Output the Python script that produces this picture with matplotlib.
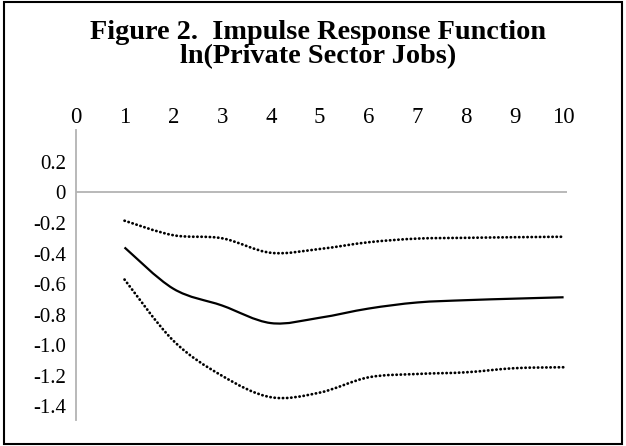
import numpy as np
import matplotlib.pyplot as plt
from matplotlib.path import Path
from matplotlib.patches import PathPatch, Rectangle

# periods and estimated responses
periods = [1, 2, 3, 4, 5, 6, 7, 8, 9, 10]
irf = [-0.36, -0.63, -0.74, -0.855, -0.82, -0.76, -0.72, -0.705, -0.695, -0.686]
upper = [-0.185, -0.28, -0.30, -0.395, -0.37, -0.326, -0.302, -0.297, -0.293, -0.29]
lower = [-0.57, -0.97, -1.20, -1.34, -1.31, -1.21, -1.188, -1.177, -1.15, -1.144]

xticks = list(range(0, 11))
yticks = [0.2, 0, -0.2, -0.4, -0.6, -0.8, -1.0, -1.2, -1.4]
ylabels = ["0.2", "0", "-0.2", "-0.4", "-0.6", "-0.8", "-1.0", "-1.2", "-1.4"]

plt.rcParams['font.family'] = ['Liberation Serif', 'DejaVu Serif']


def smooth_path(x, y):
    # excel-style smoothed line: catmull-rom segments as cubic beziers
    x = np.asarray(x, float)
    y = np.asarray(y, float)
    pts = np.column_stack([x, y])
    verts = [pts[0]]
    codes = [Path.MOVETO]
    n = len(pts)
    for i in range(n - 1):
        p0 = pts[i - 1] if i > 0 else pts[i]
        p1 = pts[i]
        p2 = pts[i + 1]
        p3 = pts[i + 2] if i + 2 < n else pts[i + 1]
        c1 = p1 + (p2 - p0) / 6
        c2 = p2 - (p3 - p1) / 6
        verts += [c1, c2, p2]
        codes += [Path.CURVE4] * 3
    return Path(verts, codes)


fig = plt.figure(figsize=(6.26, 4.46), dpi=100)
ax = fig.add_axes([0.121, 0.058, 0.784, 0.651])

ax.add_patch(PathPatch(smooth_path(periods, irf), fill=False,
                       edgecolor='black', lw=1.6))
for band in (upper, lower):
    ax.add_patch(PathPatch(smooth_path(periods, band), fill=False,
                           edgecolor='black', lw=2.0,
                           linestyle=(0, (0.1, 1.4)), capstyle='round'))

ax.axhline(0, color='#b3b3b3', lw=1.3, zorder=0)

ax.set_xlim(0, 10.06)
ax.set_ylim(-1.49, 0.41)
ax.xaxis.tick_top()
ax.set_xticks(xticks)
ax.set_xticklabels([str(t) for t in xticks])
ax.set_yticks(yticks)
ax.set_yticklabels(ylabels)
ax.tick_params(axis='x', length=0, pad=1.5, labelsize=16.5)
ax.tick_params(axis='y', length=0, pad=7, labelsize=15)

for s in ['top', 'right', 'bottom']:
    ax.spines[s].set_visible(False)
ax.spines['left'].set_color('#b3b3b3')
ax.spines['left'].set_linewidth(1.3)

fig.text(0.508, 0.9126, "Figure 2.  Impulse Response Function",
         ha='center', va='baseline', fontsize=20.3, fontweight='bold')
fig.text(0.508, 0.858, "ln(Private Sector Jobs)",
         ha='center', va='baseline', fontsize=20.3, fontweight='bold')

fig.patches.append(Rectangle((0.006, 0.005), 0.988, 0.99, transform=fig.transFigure,
                             fill=False, edgecolor='black', lw=1.5))

fig.savefig("out.png", dpi=100)
